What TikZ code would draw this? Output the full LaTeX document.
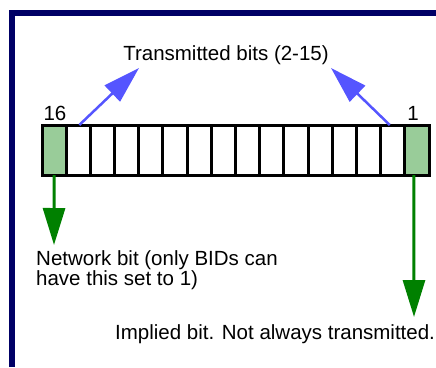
\documentclass[tikz,border=0pt]{standalone}
\usepackage{fontspec}
\setmainfont{Liberation Sans}
\usetikzlibrary{arrows.meta}
\definecolor{framenavy}{RGB}{0,0,102}
\definecolor{bitgreen}{RGB}{153,204,153}
\definecolor{arrowblue}{RGB}{85,85,255}
\definecolor{arrowgreen}{RGB}{0,128,0}
\begin{document}
\begin{tikzpicture}[x=1pt,y=-1pt,
  bitcell/.style={draw=black, line width=3pt, minimum width=24.19pt,
    minimum height=50pt, inner sep=0pt, outer sep=0pt},
  txt/.style={font=\fontsize{20.5}{20}\selectfont, inner sep=0pt},
  bluearrow/.style={draw=arrowblue, line width=2.5pt,
    -{Triangle[length=37pt,width=22pt]}},
  greenarrow/.style={draw=arrowgreen, line width=3pt,
    -{Triangle[length=37pt,width=22pt]}}]
\useasboundingbox (0,0) rectangle (436,367);

% frame (top and left edges)
\draw[framenavy, line width=6pt, line join=miter] (12,367) -- (12,13) -- (436,13);

% 16-bit register: b16 on the left, b1 on the right
\node[bitcell, fill=bitgreen] (b16) at ({42+24.19*0.5},150) {};
\foreach \k in {1,...,14} {
  \pgfmathtruncatemacro\bitno{16-\k}
  \node[bitcell] (b\bitno) at ({42+24.19*(\k+0.5)},150) {};
}
\node[bitcell, fill=bitgreen] (b1) at ({42+24.19*15.5},150) {};

% bit numbers
\node[txt, anchor=base] (n16) at (55,120) {16};
\node[txt, anchor=base] (n1) at (413,120) {1};

% labels
\node[txt, anchor=base] (title) at (226,60) {Transmitted bits (2-15)};
\node[txt, anchor=north west, align=left] (net) at (36,250)
  {Network bit (only BIDs can\\have this set to 1)};
\node[txt, anchor=base west] (impl) at (115,339) {Implied bit. Not always transmitted.};

% arrow ends
\coordinate (tl) at (139,68);
\coordinate (tr) at (331,68);
\coordinate (nb) at (54,245);
\coordinate (ib) at (414,317);

% connectors
\draw[bluearrow] ([xshift=1pt]b15.north) -- (tl);
\draw[bluearrow] ([xshift=-3pt]b2.north) -- (tr);
\draw[greenarrow] (b16.south) -- (nb);
\draw[greenarrow] ([xshift=-3pt]b1.south) -- (ib);
\end{tikzpicture}
\end{document}
